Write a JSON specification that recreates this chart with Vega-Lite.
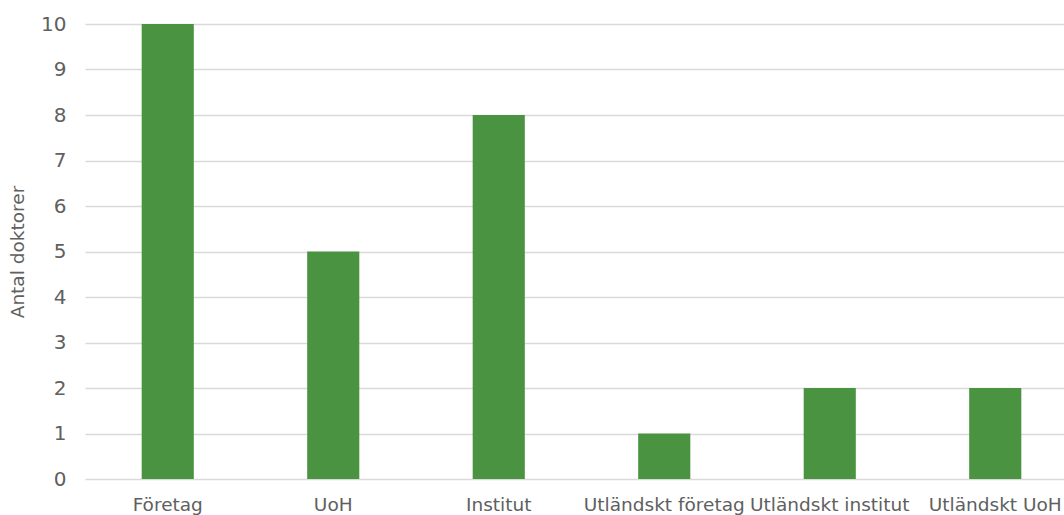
{
  "$schema": "https://vega.github.io/schema/vega-lite/v6.json",
  "autosize": {"type": "none"},
  "padding": {"left": 85, "top": 24, "right": 0, "bottom": 40},
  "width": 993,
  "height": 455,
  "background": "white",
  "config": {
    "view": {"stroke": null},
    "font": "DejaVu Sans"
  },
  "data": {
    "values": [
      {"kategori": "Företag", "antal": 10},
      {"kategori": "UoH", "antal": 5},
      {"kategori": "Institut", "antal": 8},
      {"kategori": "Utländskt företag", "antal": 1},
      {"kategori": "Utländskt institut", "antal": 2},
      {"kategori": "Utländskt UoH", "antal": 2}
    ]
  },
  "mark": {"type": "bar", "color": "#4a9341"},
  "encoding": {
    "x": {
      "field": "kategori",
      "type": "nominal",
      "sort": null,
      "scale": {"paddingInner": 0.685, "paddingOuter": 0.3425},
      "axis": {
        "title": null,
        "labelAngle": 0,
        "domain": false,
        "ticks": false,
        "labelFontSize": 18.5,
        "labelColor": "#606060",
        "labelPadding": 25,
        "labelBaseline": "middle",
        "labelFont": "DejaVu Sans"
      }
    },
    "y": {
      "field": "antal",
      "type": "quantitative",
      "scale": {"domain": [0, 10], "nice": false},
      "axis": {
        "title": "Antal doktorer",
        "titleFontSize": 18.5,
        "titleFontWeight": "normal",
        "titleColor": "#606060",
        "titlePadding": 13,
        "titleFont": "DejaVu Sans",
        "values": [0,1,2,3,4,5,6,7,8,9,10],
        "labelFontSize": 20,
        "labelColor": "#606060",
        "labelFont": "DejaVu Sans",
        "labelPadding": 19,
        "domain": false,
        "ticks": false,
        "gridColor": "#d9d9d9",
        "gridWidth": 1.5
      }
    }
  }
}
